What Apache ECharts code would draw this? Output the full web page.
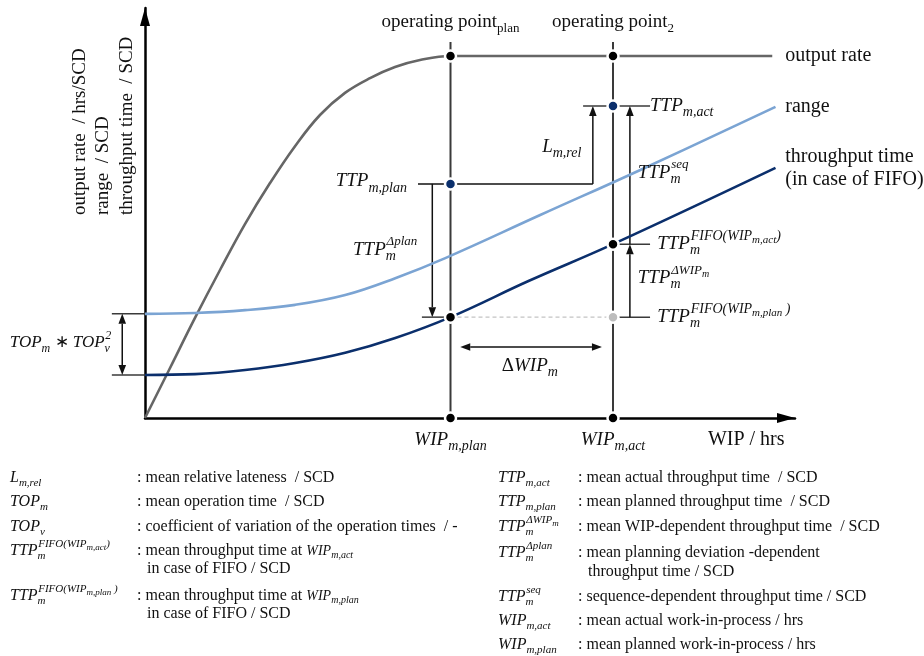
<!DOCTYPE html>
<html><head><meta charset="utf-8">
<script src="https://cdn.jsdelivr.net/npm/echarts@6/dist/echarts.min.js"></script>
<style>html,body{margin:0;padding:0;background:#fff}#c{width:924px;height:656px}</style>
</head><body><div id="c"></div>
<script>
// ---------- values (x: WIP, y: output rate / range / throughput time, 0..100 scale) ----------
const outputRate = [[0,0],[3.85,12.2],[7.69,24.4],[11.54,36.1],[15.38,47.3],[19.23,57.3],[23.08,66.3],[26.92,73.9],[30.77,79.3],[34.62,82.9],[38.46,85.6],[42.31,87.3],[47,88.3],[72,88.3],[96.5,88.3]];
const rangeCurve = [[0,25.4],[7.7,25.6],[15.4,26.3],[23.1,27.6],[30.8,30],[38.5,34.1],[46.2,39],[60.8,49.5],[76.2,60.5],[97,75.9]];
const throughputCurve = [[0,10.5],[7.7,10.7],[15.4,11.7],[23.1,13.4],[30.8,15.9],[38.5,19.5],[47,24.6],[59,33.4],[72,42.4],[97,61]];
const wipPlan = 47, wipAct = 72;
const outputLevel = 88.3;
const ttpPlan = 57.1, ttpAct = 76.1;
const ttpFifoPlan = 24.6, ttpFifoAct = 42.4;
const blackDots = [[wipPlan, outputLevel],[wipAct, outputLevel],[wipPlan, 0],[wipAct, 0],[wipPlan, ttpFifoPlan],[wipAct, ttpFifoAct]];
const navyDots = [[wipPlan, ttpPlan],[wipAct, ttpAct]];
const greyDots = [[wipAct, ttpFifoPlan]];
const yTitleLines = ['output rate  / hrs/SCD', 'range  / SCD', 'throughput time  / SCD'];
const curveNames = ['output rate', 'range', 'throughput time', '(in case of FIFO)'];
const legendLeft = [
  {sym:[{t:'L', sub:'m,rel'}], desc:[{t:': mean relative lateness  / SCD', it:false}]},
  {sym:[{t:'TOP', sub:'m'}], desc:[{t:': mean operation time  / SCD', it:false}]},
  {sym:[{t:'TOP', sub:'v'}], desc:[{t:': coefficient of variation of the operation times  / -', it:false}]},
  {sym:[{t:'TTP', sub:'m', sup:[['FIFO(WIP',0],['m,act',1],[')',0]]}], desc:[{t:': mean throughput time at ', it:false},{t:'WIP', sub:'m,act', small:true}], line2:'in case of FIFO / SCD'},
  {sym:[{t:'TTP', sub:'m', sup:[['FIFO(WIP',0],['m,plan',1],[' )',0]]}], desc:[{t:': mean throughput time at ', it:false},{t:'WIP', sub:'m,plan', small:true}], line2:'in case of FIFO / SCD'}
];
const legendRight = [
  {sym:[{t:'TTP', sub:'m,act'}], desc:[{t:': mean actual throughput time  / SCD', it:false}]},
  {sym:[{t:'TTP', sub:'m,plan'}], desc:[{t:': mean planned throughput time  / SCD', it:false}]},
  {sym:[{t:'TTP', sub:'m', sup:[['ΔWIP',0],['m',1]]}], desc:[{t:': mean WIP-dependent throughput time  / SCD', it:false}]},
  {sym:[{t:'TTP', sub:'m', sup:'Δplan'}], desc:[{t:': mean planning deviation -dependent', it:false}], line2:'throughput time / SCD'},
  {sym:[{t:'TTP', sub:'m', sup:'seq'}], desc:[{t:': sequence-dependent throughput time / SCD', it:false}]},
  {sym:[{t:'WIP', sub:'m,act'}], desc:[{t:': mean actual work-in-process / hrs', it:false}]},
  {sym:[{t:'WIP', sub:'m,plan'}], desc:[{t:': mean planned work-in-process / hrs', it:false}]}
];

// ---------- text helpers ----------
const mctx = document.createElement('canvas').getContext('2d');
const FAM = '"Liberation Serif", "Times New Roman", serif';
function font(s, it){ return (it ? 'italic ' : '') + s + 'px ' + FAM; }
function tw(t, f){ mctx.font = f; return mctx.measureText(t).width; }
function txt(t, x, y, f, align, extra){
  return Object.assign({type:'text', x:x, y:y, style:{text:t, font:f, fill:'#111', align:align||'left', textAlign:align||'left', verticalAlign:'middle', textVerticalAlign:'middle'}}, extra||{});
}
// atoms: {t, it, s, sub, sup, subS, supS}
function mathEls(atoms, x, y, align){
  const items = []; let cx = 0;
  atoms.forEach(a => {
    const s = a.s, it = a.it !== false;
    const bf = font(s, it);
    if (a.t){ items.push({t:a.t, f:bf, x:cx, dy:0}); cx += tw(a.t, bf); }
    let ext = 0;
    if (a.sub){ const ss = a.subS || Math.round(s*0.72); const f = font(ss, it); items.push({t:a.sub, f:f, x:cx, dy:s*0.34}); ext = tw(a.sub, f); }
    if (a.sup){
      const ss = a.supS || Math.round(s*0.72); let sx = cx + s*0.04;
      const parts = typeof a.sup === 'string' ? [[a.sup,0]] : a.sup;
      parts.forEach(p => { const nf = p[1] ? Math.round(ss*0.78) : ss; const f = font(nf, it); items.push({t:p[0], f:f, x:sx, dy:-s*0.42 + (p[1] ? ss*0.3 : 0)}); sx += tw(p[0], f); });
      ext = Math.max(ext, sx - cx);
    }
    cx += ext;
  });
  const x0 = align === 'right' ? x - cx : align === 'center' ? x - cx/2 : x;
  return items.map(i => txt(i.t, x0 + i.x, y + i.dy, i.f, 'left'));
}
function sized(atoms, s, subS, supS){ return atoms.map(a => Object.assign({s: a.small ? s-2 : s, subS: a.small ? subS-1 : subS, supS: supS}, a)); }

// ---------- annotation lines (in data coordinates) ----------
function arrowHead(ch, p, q, color){
  const L = 10, W = 3.8;
  const dx = q[0]-p[0], dy = q[1]-p[1], len = Math.hypot(dx,dy), ux = dx/len, uy = dy/len;
  const bx = q[0]-ux*L, by = q[1]-uy*L;
  ch.push({type:'polygon', shape:{points:[[q[0],q[1]],[bx-uy*W, by+ux*W],[bx+uy*W, by-ux*W]]}, style:{fill:color}});
  return [bx, by];
}
function renderLines(params, api){
  const c = (x,y) => api.coord([x,y]);
  const ch = [];
  const K = '#111', G = '#3a3a3a';
  const seg = (p,q,st) => ch.push({type:'line', shape:{x1:p[0],y1:p[1],x2:q[0],y2:q[1]}, style:Object.assign({stroke:G, lineWidth:1.5}, st||{})});
  const arrow = (p,q) => { const b = arrowHead(ch, p, q, K); seg(p, b, {stroke:K}); };
  const dArrow = (p,q) => { const b1 = arrowHead(ch, q, p, K); const b2 = arrowHead(ch, p, q, K); seg(b1, b2, {stroke:K}); };
  const opTop = 91.7;
  [wipPlan, wipAct].forEach(w => seg(c(w, opTop), c(w, 0), {stroke:G, lineWidth:2}));
  const lRelX = wipAct - 3.1, planArrowX = wipPlan - 2.8, actArrowX = wipAct + 2.6, tickEnd = wipAct + 5.7;
  seg(c(wipPlan - 5, ttpPlan), c(lRelX, ttpPlan), {stroke:K});
  arrow(c(lRelX, ttpPlan), c(lRelX, ttpAct));
  seg(c(lRelX - 1.5, ttpAct), c(tickEnd, ttpAct));
  arrow(c(planArrowX, ttpPlan), c(planArrowX, ttpFifoPlan));
  seg(c(wipPlan - 4.4, ttpFifoPlan), c(wipPlan, ttpFifoPlan));
  seg(c(wipPlan, ttpFifoPlan), c(wipAct, ttpFifoPlan), {stroke:'#c4c4c4', lineDash:[4,3], lineWidth:1.4});
  seg(c(wipAct, ttpFifoPlan), c(tickEnd, ttpFifoPlan));
  seg(c(wipAct, ttpFifoAct), c(tickEnd, ttpFifoAct));
  arrow(c(actArrowX, ttpFifoPlan), c(actArrowX, ttpFifoAct));
  arrow(c(actArrowX, ttpFifoAct), c(actArrowX, ttpAct));
  dArrow(c(wipPlan + 1.5, 17.3), c(wipAct - 1.7, 17.3));
  const r0 = rangeCurve[0][1], t0 = throughputCurve[0][1];
  seg(c(-5.1, r0), c(0, r0));
  seg(c(-5.1, t0), c(0, t0));
  dArrow(c(-3.5, r0), c(-3.5, t0));
  return {type:'group', children:ch};
}
function renderTexts(params, api){
  const c = (x,y) => api.coord([x,y]);
  const ch = [];
  const M = 19, SUB = 14, SUP = 14;
  const add = (atoms, p, align, s, sb, sp) => mathEls(sized(atoms, s||M, sb||SUB, sp||SUP), p[0], p[1], align).forEach(e => ch.push(e));
  add([{t:'operating point', it:false, sub:'plan', subS:13}], c(wipPlan, 96.6), 'center');
  add([{t:'operating point', it:false, sub:'2', subS:13}], c(wipAct, 96.6), 'center');
  const f20 = font(20, false);
  ch.push(txt(curveNames[0], c(98.5, outputLevel)[0], c(98.5, outputLevel)[1], f20));
  ch.push(txt(curveNames[1], c(98.5, 75.9)[0], c(98.5, 75.9)[1], f20));
  ch.push(txt(curveNames[2], c(98.5, 63.7)[0], c(98.5, 63.7)[1], f20));
  ch.push(txt(curveNames[3], c(98.5, 58)[0], c(98.5, 58)[1], f20));
  add([{t:'L', sub:'m,rel'}], c(61.1, 66.1), 'left');
  add([{t:'TTP', sub:'m,plan'}], c(40.3, ttpPlan + 0.6), 'right');
  add([{t:'TTP', sub:'m', sup:'Δplan', supS:13}], c(32, 41), 'left');
  add([{t:'TTP', sub:'m,act'}], c(77.7, ttpAct), 'left');
  add([{t:'TTP', sub:'m', sup:'seq', supS:13}], c(75.8, 59.8), 'left');
  add([{t:'TTP', sub:'m', sup:[['FIFO(WIP',0],['m,act',1],[')',0]]}], c(78.8, ttpFifoAct), 'left');
  add([{t:'TTP', sub:'m', sup:[['ΔWIP',0],['m',1]], supS:13}], c(75.8, 34.1), 'left');
  add([{t:'TTP', sub:'m', sup:[['FIFO(WIP',0],['m,plan',1],[' )',0]]}], c(78.8, ttpFifoPlan), 'left');
  add([{t:'Δ', it:false},{t:'WIP', sub:'m'}], c(59.2, 12.7), 'center');
  add([{t:'WIP', sub:'m,plan'}], c(wipPlan, -5.4), 'center');
  add([{t:'WIP', sub:'m,act'}], c(wipAct, -5.4), 'center');
  ch.push(txt('WIP / hrs', c(86.6, -5.4)[0], c(86.6, -5.4)[1], font(20, false)));
  add([{t:'TOP', sub:'m'},{t:' ∗ ', it:false},{t:'TOP', sub:'v', sup:'2'}], c(-20.8, 18.3), 'left', 17, 12, 12);
  const yx = [-10, -6.5, -2.8];
  yTitleLines.forEach((t, i) => { const p = c(yx[i], 49.5); ch.push(txt(t, p[0], p[1], font(19, false), 'left', {rotation: Math.PI/2})); });
  return {type:'group', children:ch};
}

function legendEls(){
  const els = [];
  const rows = (list, symX, colX, line2X, ys, gap) => list.forEach((r, i) => {
    mathEls(sized(r.sym, 16, 11, 11), symX, ys[i], 'left').forEach(e => els.push(e));
    mathEls(sized(r.desc.map(d => Object.assign({}, d)), 16, 11, 11), colX, ys[i], 'left').forEach(e => els.push(e));
    if (r.line2) els.push(txt(r.line2, line2X, ys[i] + gap, font(16, false)));
  });
  rows(legendLeft, 10, 137, 147, [478, 502, 527, 551, 596], 18);
  rows(legendRight, 498, 578, 588, [478, 502, 527, 553, 597, 621, 645], 19);
  return els;
}

const chart = echarts.init(document.getElementById('c'));
const hiddenAxis = (extra) => Object.assign({
  type:'value', min:0, max:100,
  axisLine:{show:true, symbol:['none','triangle'], symbolSize:[10,18], symbolOffset:[0,-9], lineStyle:{color:'#000', width:2.5}},
  axisTick:{show:false}, axisLabel:{show:false}, splitLine:{show:false}
}, extra);
chart.setOption({
  animation:false,
  backgroundColor:'#fff',
  grid:{left:145, top:8, width:650, height:410},
  xAxis: hiddenAxis({}),
  yAxis: hiddenAxis({}),
  graphic:{elements: legendEls()},
  series:[
    {type:'custom', coordinateSystem:'cartesian2d', clip:false, silent:true, z:1, data:[[0,0]], renderItem:renderLines},
    {type:'line', name:'output rate', data:outputRate, smooth:0.4, showSymbol:false, lineStyle:{color:'#666666', width:2.6}, z:2},
    {type:'line', name:'range', data:rangeCurve, smooth:0.4, showSymbol:false, lineStyle:{color:'#7ba4d3', width:2.6}, z:2},
    {type:'line', name:'throughput time', data:throughputCurve, smooth:0.4, showSymbol:false, lineStyle:{color:'#0b2f6c', width:2.6}, z:2},
    {type:'scatter', data:blackDots, symbolSize:11, clip:false, itemStyle:{color:'#000', borderColor:'#fff', borderWidth:2.5, opacity:1}, z:5},
    {type:'scatter', data:navyDots, symbolSize:11, clip:false, itemStyle:{color:'#0b2f6c', borderColor:'#fff', borderWidth:2.5, opacity:1}, z:5},
    {type:'scatter', data:greyDots, symbolSize:11, clip:false, itemStyle:{color:'#bdbdbd', borderColor:'#fff', borderWidth:2.5, opacity:1}, z:5},
    {type:'custom', coordinateSystem:'cartesian2d', clip:false, silent:true, z:10, data:[[0,0]], renderItem:renderTexts}
  ]
});
</script></body></html>
